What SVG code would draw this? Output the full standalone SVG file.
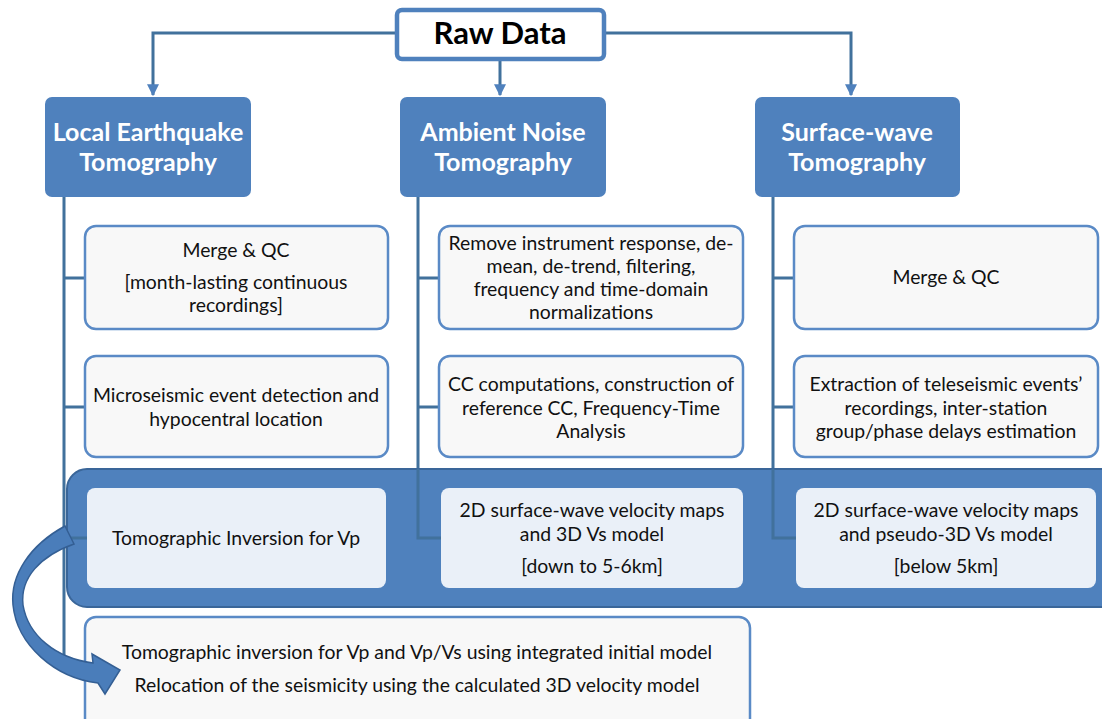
<svg xmlns="http://www.w3.org/2000/svg" width="1102" height="719" viewBox="0 0 1102 719">
<defs>
<style>
.hdr{fill:#4F81BD;}
.hdrt{font-family:Lato,"Open Sans",sans-serif;font-weight:bold;font-size:25px;fill:#fff;text-anchor:middle;}
.box{fill:#F8F8F8;stroke:#5A8AC6;stroke-width:2.5;}
.inner{fill:#EAF0F8;}
.t{font-family:Lato,"Open Sans",sans-serif;font-size:19.4px;fill:#111;text-anchor:middle;}
.con{fill:none;stroke:#41719C;stroke-width:3;}
</style>
<marker id="ah" viewBox="0 0 10 10" refX="9" refY="5" markerWidth="4" markerHeight="4" orient="auto">
<path d="M0,0 L10,5 L0,10 Z" fill="#4F81BD"/>
</marker>
</defs>
<rect width="1102" height="719" fill="#fff"/>

<g id="connectors">
<path class="con" d="M395 33 H153 V95" stroke="#4F81BD" marker-end="url(#ah)"/>
<path class="con" d="M605 33 H851 V95" stroke="#4F81BD" marker-end="url(#ah)"/>
<path class="con" d="M500 60 V95" stroke="#4F81BD" marker-end="url(#ah)"/>
<path class="con" d="M64 197 V662 M64 278 H85 M64 407 H85"/>
<path class="con" d="M418 197 V538 H441 M418 278 H439 M418 407 H439"/>
<path class="con" d="M773 197 V538 H796 M773 278 H793 M773 407 H793"/>
</g>

<g id="raw-data">
<rect x="397" y="10" width="207" height="49" rx="5" fill="#fff" stroke="#4F81BD" stroke-width="4.5"/>
<text x="500" y="44" font-family="Lato,'Open Sans',sans-serif" font-weight="bold" font-size="31" text-anchor="middle" fill="#000">Raw Data</text>
</g>

<g id="let-header">
<rect class="hdr" x="45" y="97" width="206" height="100" rx="7"/>
<text class="hdrt" x="148" y="141">Local Earthquake</text>
<text class="hdrt" x="148" y="171">Tomography</text>
</g>
<g id="ant-header">
<rect class="hdr" x="400" y="97" width="206" height="100" rx="7"/>
<text class="hdrt" x="503" y="141">Ambient Noise</text>
<text class="hdrt" x="503" y="171">Tomography</text>
</g>
<g id="swt-header">
<rect class="hdr" x="755" y="97" width="205" height="100" rx="7"/>
<text class="hdrt" x="857" y="141">Surface-wave</text>
<text class="hdrt" x="857" y="171">Tomography</text>
</g>

<g id="let-merge">
<rect class="box" x="85" y="226" width="303" height="103" rx="11"/>
<text class="t" x="236" y="257">Merge &amp; QC</text>
<text class="t" x="236" y="289">[month-lasting continuous</text>
<text class="t" x="236" y="312">recordings]</text>
</g>
<g id="let-detect">
<rect class="box" x="85" y="356" width="303" height="101" rx="11"/>
<text class="t" x="236" y="402">Microseismic event detection and</text>
<text class="t" x="236" y="426">hypocentral location</text>
</g>
<g id="ant-pre">
<rect class="box" x="439" y="226" width="304" height="103" rx="11"/>
<text class="t" x="591" y="250">Remove instrument response, de-</text>
<text class="t" x="591" y="273">mean, de-trend, filtering,</text>
<text class="t" x="591" y="296">frequency and time-domain</text>
<text class="t" x="591" y="319">normalizations</text>
</g>
<g id="ant-cc">
<rect class="box" x="439" y="356" width="304" height="101" rx="11"/>
<text class="t" x="591" y="391">CC computations, construction of</text>
<text class="t" x="591" y="415">reference CC, Frequency-Time</text>
<text class="t" x="591" y="438">Analysis</text>
</g>
<g id="swt-merge">
<rect class="box" x="794" y="226" width="304" height="103" rx="11"/>
<text class="t" x="946" y="284">Merge &amp; QC</text>
</g>
<g id="swt-extract">
<rect class="box" x="794" y="356" width="304" height="101" rx="11"/>
<text class="t" x="946" y="391">Extraction of teleseismic events’</text>
<text class="t" x="946" y="415">recordings, inter-station</text>
<text class="t" x="946" y="438">group/phase delays estimation</text>
</g>

<g id="band">
<rect x="67" y="469" width="1060" height="138" rx="20" fill="#4F81BD" stroke="#3A6699" stroke-width="2"/>
</g>
<g id="connectors-band">
<path class="con" d="M418 469 V538 H441"/>
<path class="con" d="M773 469 V538 H796"/>
<path class="con" d="M68 538 H87"/>
</g>
<g id="let-inv">
<rect class="inner" x="87" y="488" width="299" height="100" rx="8"/>
<text class="t" x="236" y="545">Tomographic Inversion for Vp</text>
</g>
<g id="ant-maps">
<rect class="inner" x="441" y="488" width="302" height="100" rx="8"/>
<text class="t" x="592" y="517">2D surface-wave velocity maps</text>
<text class="t" x="592" y="541">and 3D Vs model</text>
<text class="t" x="592" y="573">[down to 5-6km]</text>
</g>
<g id="swt-maps">
<rect class="inner" x="796" y="488" width="300" height="100" rx="8"/>
<text class="t" x="946" y="517">2D surface-wave velocity maps</text>
<text class="t" x="946" y="541">and pseudo-3D Vs model</text>
<text class="t" x="946" y="573">[below 5km]</text>
</g>

<g id="final">
<rect class="box" x="85" y="617" width="665" height="120" rx="11"/>
<text class="t" x="417" y="659">Tomographic inversion for Vp and Vp/Vs using integrated initial model</text>
<text class="t" x="417" y="692">Relocation of the seismicity using the calculated 3D velocity model</text>
</g>

<g id="curved-arrow">
<path d="M65 526 C30 545 10 575 13 605 C17 645 55 678 98 683 L105 694 L120 670 L92 654 L93 663 C55 658 28 635 23 605 C20 578 40 556 74 544 Z" fill="#4A7DBA" stroke="#345F94" stroke-width="1.5"/>
</g>
</svg>
